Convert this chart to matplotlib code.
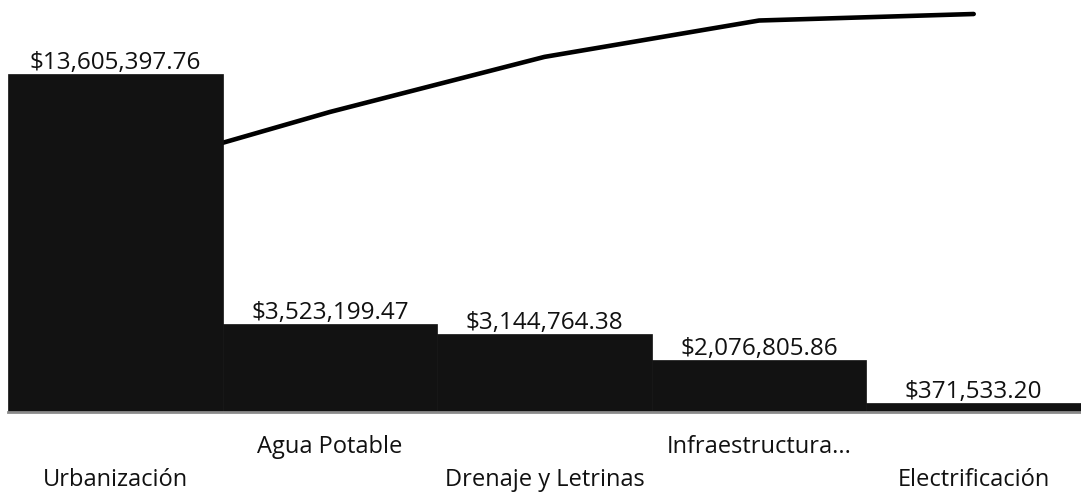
import numpy as np
import matplotlib.pyplot as plt

# ====================================================
# data
categories = ['Urbanización', 'Agua Potable', 'Drenaje y Letrinas',
              'Infraestructura...', 'Electrificación']
amounts = [13605397.76, 3523199.47, 3144764.38, 2076805.86, 371533.20]
value_labels = ['$13,605,397.76', '$3,523,199.47', '$3,144,764.38',
                '$2,076,805.86', '$371,533.20']

# ====================================================
def main():
	plt.rcParams['font.family'] = ['Open Sans', 'DejaVu Sans']

	vals = np.array(amounts)
	cum = np.cumsum(vals) / vals.sum()
	x = np.arange(len(categories))

	fig = plt.figure(figsize=(10.81, 4.95), dpi=100)
	ax = fig.add_axes([8 / 1081, 1 - 412 / 495, 1 - 8 / 1081, (412 - 14) / 495])
	ax2 = ax.twinx()

	# bars on top of the cumulative line
	ax.set_zorder(ax2.get_zorder() + 1)
	ax.patch.set_visible(False)

	ax.bar(x, vals, width=1.0, color='#121212', edgecolor='#121212', linewidth=0.5)
	ax.axhline(0, color='#8a8a8a', lw=2, clip_on=False)
	ax.set_xlim(-0.5, len(categories) - 0.5)
	ax.set_ylim(0, 16e6)

	ax2.plot(x, cum, color='black', lw=3.3, solid_capstyle='round', clip_on=False)
	ax2.set_ylim(0, 1)

	for a in (ax, ax2):
		for s in a.spines.values():
			s.set_visible(False)
		a.set_xticks([])
		a.set_yticks([])

	# value labels above the bars
	for i, v in enumerate(vals):
		ax.annotate(value_labels[i], xy=(i, v), xytext=(0, 5),
					textcoords='offset pixels', ha='center', va='baseline',
					fontsize=17.5, color='#111111')

	# category labels, alternating rows
	for i, c in enumerate(categories):
		off = -35 if i % 2 == 1 else -68
		ax.annotate(c, xy=(i, 0), xycoords=('data', 'axes fraction'),
					xytext=(0, off), textcoords='offset pixels',
					ha='center', va='center', fontsize=17, color='#111111',
					annotation_clip=False)

	fig.savefig('out.png', dpi=100)

# ====================================================
if __name__ == "__main__":
	main()
